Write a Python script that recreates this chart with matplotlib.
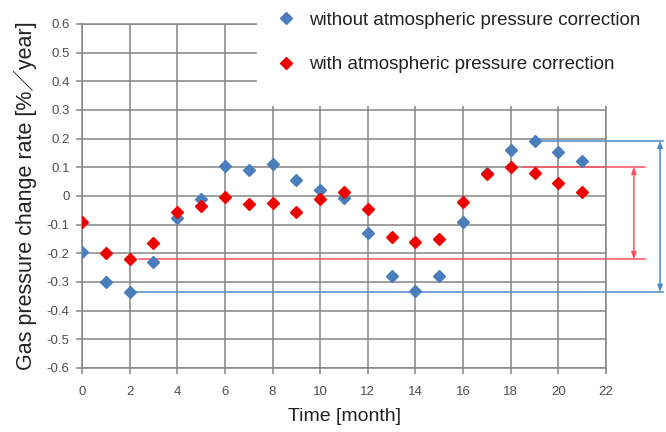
import matplotlib.pyplot as plt
from matplotlib.patches import Rectangle
import numpy as np

plt.rcParams["font.family"] = ["Liberation Sans", "Noto Sans CJK JP", "DejaVu Sans"]

months = list(range(22))
without_corr = [-0.195, -0.30, -0.335, -0.23, -0.075, -0.012, 0.103, 0.09, 0.11, 0.056,
                0.02, -0.008, -0.13, -0.28, -0.33, -0.28, -0.09, 0.079, 0.16, 0.193,
                0.155, 0.122]
with_corr = [-0.092, -0.20, -0.221, -0.163, -0.057, -0.035, -0.002, -0.028, -0.024, -0.055,
             -0.012, 0.015, -0.045, -0.142, -0.16, -0.15, -0.022, 0.077, 0.102, 0.079,
             0.046, 0.013]

y_ticks = np.round(np.arange(-0.6, 0.61, 0.1), 1)
y_tick_labels = ["0" if v == 0 else f"{v:.1f}" for v in y_ticks]
x_ticks = list(range(0, 23, 2))

blue = "#4a7ebb"
red = "#ee0000"
blue_line = "#4a8ad0"
red_line = "#ff4f5f"
grid_c = "#858585"

fig = plt.figure(figsize=(6.66, 4.32), dpi=100)
ax = fig.add_axes([82 / 666, 1 - 368 / 432, 524 / 666, 344 / 432])

ax.plot(months, without_corr, "D", color=blue, ms=6.5, mec=blue,
        label="without atmospheric pressure correction", zorder=3)
ax.plot(months, with_corr, "D", color=red, ms=6.5, mec=red,
        label="with atmospheric pressure correction", zorder=4)

ax.set_xlim(0, 22)
ax.set_ylim(-0.6, 0.6)
ax.set_xticks(x_ticks)
ax.set_yticks(y_ticks)
ax.set_yticklabels(y_tick_labels)
ax.grid(True, color=grid_c, lw=1.1)
ax.set_axisbelow(True)
for s in ax.spines.values():
    s.set_color(grid_c)
    s.set_linewidth(1.1)
ax.tick_params(colors=grid_c, labelcolor="#4d4d4d", labelsize=9.5, length=4, width=1.1)
ax.tick_params(axis="x", pad=9)
ax.tick_params(axis="y", pad=5)

ax.set_xlabel("Time [month]", fontsize=14, color="#222222", labelpad=7)
ax.set_ylabel("Gas pressure change rate [%／year]", fontsize=15.5, color="#222222", labelpad=7)

# range markers (max/min of each series)
def range_marker(values, color, start_off_top, start_off_bot, x_end, x_arrow):
    vals = np.array(values)
    i_max, i_min = int(np.argmax(vals)), int(np.argmin(vals))
    ax.plot([months[i_max] + start_off_top, x_end], [vals[i_max]] * 2, color=color,
            lw=1.1, clip_on=False, zorder=2)
    ax.plot([months[i_min] + start_off_bot, x_end], [vals[i_min]] * 2, color=color,
            lw=1.1, clip_on=False, zorder=2)
    ax.annotate("", xy=(x_arrow, vals[i_max]), xytext=(x_arrow, vals[i_min]),
                arrowprops=dict(arrowstyle="<|-|>,head_length=0.4,head_width=0.15",
                                color=color, lw=1.1, shrinkA=0, shrinkB=0),
                annotation_clip=False)


range_marker(without_corr, blue_line, 0.25, 0.27, 24.4, 24.27)
range_marker(with_corr, red_line, 0.5, 0.4, 23.65, 23.17)

# white box behind the legend
fig.add_artist(Rectangle((257 / 666, 1 - 106 / 432), 1, 1, transform=fig.transFigure,
                         facecolor="white", edgecolor="none", zorder=1))
handles, labels = ax.get_legend_handles_labels()
leg = fig.legend(handles, labels, loc="upper left", bbox_to_anchor=(262 / 666, 1.003),
                 frameon=False, fontsize=13.5, labelspacing=1.45, handletextpad=0.6,
                 handlelength=1.2, borderaxespad=0.3, labelcolor="#222222")
leg.set_zorder(2)

fig.savefig("out.png", dpi=100)
